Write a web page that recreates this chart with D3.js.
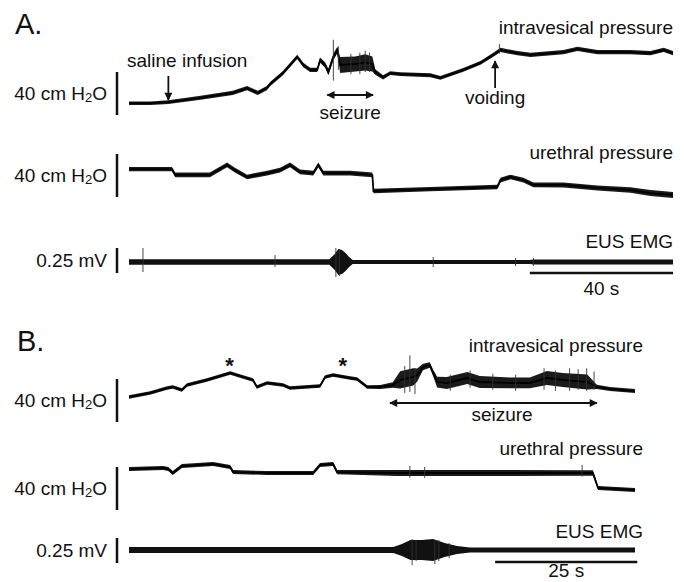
<!DOCTYPE html>
<html lang="en">

<head>
  <meta charset="UTF-8">
  <title>bladder traces</title>
  <script src="https://d3js.org/d3.v7.min.js"></script>
  <style>
    body { margin: 0; background: #fff; }
    text { font-family: "Liberation Sans", Arial, Helvetica, sans-serif; fill: #111; }
  </style>
</head>

<body>

  <div id="chart"></div>

  <script>
    // ---- panel A (152 s shown), pressure in cm H2O, EMG in mV ----
    var a1T = [0, 6, 11, 20, 29, 33, 36, 38.5, 39.5, 43, 47, 48.7, 50.6, 52.6, 53.4, 54.8, 55.7, 57.1, 58.2, 59, 63.2, 66, 68, 68.8, 71, 73, 75.8, 84.2, 87, 93.4, 98.2, 101.8, 103.8, 108.5, 112.2, 121.4, 125.3, 130.9, 140.1, 145.7, 149.4, 152];
    var a1V = [11, 11, 12, 16, 20.5, 25, 20.5, 25, 29, 39, 54, 46.5, 42, 42, 51, 46.5, 40, 54, 60.5, 46.5, 47.5, 49, 47.5, 40, 35, 39, 38, 37, 34.5, 42, 48.5, 56, 60.5, 57.5, 56, 58.5, 61.5, 58.5, 58.5, 57.5, 60.5, 57.5];
    var a1W = [1.6, 1.6, 1.8, 1.8, 2, 2, 2, 2, 2, 2, 2, 2, 2, 2, 2.5, 2.5, 3, 3, 3, 7.5, 7, 7.5, 7, 2.5, 2, 1.8, 1.8, 1.8, 1.8, 1.8, 1.8, 1.8, 2, 2, 2, 2, 2, 2, 2, 2, 2, 2];
    var a1SpikeT = [57.1, 58.5, 62, 64.5, 66, 67.2, 103.5];
    var a1SpikeHi = [70, 64, 57, 58, 60, 58, 66];
    var a1SpikeLo = [32, 42, 38, 38, 40, 40, 57];

    var a2T = [0, 12, 12.9, 22.6, 27.4, 29.6, 33, 38.6, 42.2, 45, 47.8, 51.5, 52.9, 54.3, 61.8, 68, 68.3, 84.2, 102.9, 103.8, 106.6, 110.2, 113, 121.4, 130.9, 140.1, 145.7, 152];
    var a2V = [26, 26, 20.5, 20.5, 29.8, 25, 18.6, 22.3, 25, 29.8, 23.3, 22.3, 29.8, 22.3, 22.3, 20.5, 5.6, 7.4, 9.3, 15.8, 18.6, 15.8, 11.2, 11.2, 8.4, 6.5, 3.7, 1.9];
    var a2W = [2, 2, 2.2, 2.2, 2.2, 2.2, 2.2, 2.2, 2.2, 2.2, 2.2, 2.2, 2.2, 2.2, 2.2, 2.2, 2, 2, 2, 2.2, 2.2, 2.2, 2.2, 2.4, 2.4, 2.6, 2.8, 2.8];

    var a3Base = 0.11;
    var a3T = [0, 56, 57.5, 58.5, 59.5, 60.5, 61.5, 62.5, 112, 113, 152];
    var a3Amp = [0.027, 0.027, 0.08, 0.13, 0.12, 0.09, 0.05, 0.02, 0.02, 0.025, 0.025];
    var a3SpikeT = [3.9, 40.8, 57.8, 58.8, 85, 108, 113];
    var a3SpikeHi = [0.25, 0.18, 0.25, 0.24, 0.16, 0.15, 0.15];
    var a3SpikeLo = [0.01, 0.06, -0.04, -0.03, 0.06, 0.07, 0.07];

    // ---- panel B (89 s shown) ----
    var b1T = [0, 3.7, 6.7, 7.7, 9.3, 10.2, 13.7, 17.8, 19.5, 21.8, 22.5, 24.3, 27.1, 28.3, 33.6, 34.5, 35.9, 38.9, 40.1, 41.9, 44.2, 46.4, 47.7, 50, 50.7, 51.7, 52.9, 53.5, 54.2, 55.9, 59.5, 61.7, 67.5, 70.5, 73.5, 76.3, 80.6, 82.3, 84.6, 89];
    var b1V = [23.3, 27, 31.6, 32.6, 29.8, 34.4, 39.1, 45.6, 42.8, 39.1, 32.6, 36.3, 34.4, 31.6, 33.5, 41.9, 43.7, 40.9, 40, 32.6, 32.6, 34.4, 39.1, 41.9, 43.7, 51.2, 53, 45.6, 37.2, 36.3, 40.9, 37.2, 36.3, 36.3, 40.9, 39.1, 37.2, 32.6, 30.7, 28.8];
    var b1W = [1.6, 1.6, 1.6, 1.6, 1.6, 1.6, 1.6, 1.6, 1.6, 1.6, 1.6, 1.6, 1.6, 1.6, 1.6, 1.6, 1.6, 1.6, 1.6, 1.6, 1.8, 2.5, 8, 8, 6, 3, 2.5, 3, 5, 5.5, 5.5, 5.5, 5, 5, 6.5, 6.5, 7, 2, 1.8, 1.8];
    var b1SpikeT = [48.5, 49.4, 50.3, 56.5, 60, 64, 68, 73, 75, 77.5, 79, 80.5, 81.8];
    var b1SpikeHi = [52, 62, 50, 44, 48, 45, 44, 50, 48, 50, 49, 50, 47];
    var b1SpikeLo = [27, 28, 26, 29, 32, 30, 29, 30, 29, 29, 30, 29, 30];

    var b2T = [0, 6, 6.9, 7.7, 9.3, 14.8, 17.8, 18.3, 24.3, 32.4, 33.6, 35.9, 36.6, 47.1, 64.7, 81.6, 82.5, 89];
    var b2V = [38.1, 39.1, 38.1, 34.4, 40.9, 42.8, 40, 35.3, 34.4, 34.4, 41.9, 42.8, 35.3, 34.4, 34.4, 34.4, 20.5, 18.6];
    var b2W = [1.8, 1.8, 1.8, 1.8, 1.8, 1.8, 1.8, 1.8, 1.8, 1.8, 1.8, 1.8, 2, 2.8, 2.8, 2.5, 1.8, 1.8];
    var b2SpikeT = [49.4, 52, 79.7];
    var b2SpikeHi = [41, 40, 42];
    var b2SpikeLo = [30, 30, 31];

    var b3Base = 0.13;
    var b3T = [0, 46.5, 48, 49.5, 51.5, 53.5, 55.5, 57.7, 60, 89];
    var b3Amp = [0.03, 0.03, 0.06, 0.1, 0.1, 0.11, 0.07, 0.04, 0.025, 0.025];
    var b3SpikeT = [49.8, 50.5, 53.8, 54.5, 56.3];
    var b3SpikeHi = [0.24, 0.23, 0.22, 0.23, 0.2];
    var b3SpikeLo = [-0.02, 0.02, -0.01, 0.02, 0.05];

    var width = 684, height = 582;
    var svg = d3.select("#chart").append("svg")
      .attr("width", width).attr("height", height);
    svg.append("rect").attr("width", width).attr("height", height).attr("fill", "#fff");

    var defs = svg.append("defs");
    defs.append("marker").attr("id", "head")
      .attr("viewBox", "0 0 10 10").attr("refX", 9).attr("refY", 5)
      .attr("markerWidth", 9).attr("markerHeight", 8).attr("markerUnits", "userSpaceOnUse")
      .attr("orient", "auto-start-reverse")
      .append("path").attr("d", "M0,0 L10,5 L0,10 Z").attr("fill", "#111");

    var xA = d3.scaleLinear().domain([0, 152]).range([129, 673]);
    var xB = d3.scaleLinear().domain([0, 89]).range([129, 635]);

    var yA1 = d3.scaleLinear().domain([0, 40]).range([115, 72]);
    var yA2 = d3.scaleLinear().domain([0, 40]).range([197, 154]);
    var yA3 = d3.scaleLinear().domain([0, 0.25]).range([273, 248]);
    var yB1 = d3.scaleLinear().domain([0, 40]).range([422, 379]);
    var yB2 = d3.scaleLinear().domain([0, 40]).range([510, 467]);
    var yB3 = d3.scaleLinear().domain([0, 0.25]).range([563, 538]);

    var fs = 19;

    function pressureTrace(x, y, T, V, W) {
      var pts = T.map(function (t, i) { return { t: t, v: V[i], w: W[i] }; });
      var area = d3.area()
        .x(function (d) { return x(d.t); })
        .y0(function (d) { return y(d.v - d.w); })
        .y1(function (d) { return y(d.v + d.w); });
      svg.append("path").datum(pts).attr("d", area).attr("fill", "#1a1a1a");
      var line = d3.line()
        .x(function (d) { return x(d.t); })
        .y(function (d) { return y(d.v); });
      svg.append("path").datum(pts).attr("d", line)
        .attr("fill", "none").attr("stroke", "#000").attr("stroke-width", 1.8);
    }

    function emgTrace(x, y, base, T, A) {
      var pts = T.map(function (t, i) { return { t: t, a: A[i] }; });
      var area = d3.area()
        .x(function (d) { return x(d.t); })
        .y0(function (d) { return y(base - d.a); })
        .y1(function (d) { return y(base + d.a); });
      svg.append("path").datum(pts).attr("d", area).attr("fill", "#111");
    }

    function spikes(x, y, T, Hi, Lo) {
      svg.append("g").selectAll("line").data(T).join("line")
        .attr("x1", function (d) { return x(d); }).attr("x2", function (d) { return x(d); })
        .attr("y1", function (d, i) { return y(Hi[i]); })
        .attr("y2", function (d, i) { return y(Lo[i]); })
        .attr("stroke", "#333").attr("stroke-width", 0.9);
    }

    function ampBar(y, top, label) {
      var x0 = 117;
      svg.append("line").attr("x1", x0).attr("x2", x0)
        .attr("y1", y(0)).attr("y2", y(top))
        .attr("stroke", "#111").attr("stroke-width", 2.5);
      var t = svg.append("text").attr("x", 107)
        .attr("y", (y(0) + y(top)) / 2 + 6.5)
        .attr("text-anchor", "end").attr("font-size", fs);
      if (label === "cm") {
        t.append("tspan").text("40 cm H");
        t.append("tspan").text("2").attr("font-size", 13).attr("dy", 2);
        t.append("tspan").text("O").attr("dy", -2);
      } else {
        t.text(label);
      }
    }

    function timeBar(x, t0, t1, yy, off, label) {
      svg.append("line").attr("x1", x(t0)).attr("x2", x(t1))
        .attr("y1", yy).attr("y2", yy)
        .attr("stroke", "#111").attr("stroke-width", 2.5);
      svg.append("text").attr("x", (x(t0) + x(t1)) / 2).attr("y", yy + off)
        .attr("text-anchor", "middle").attr("font-size", fs).text(label);
    }

    function label(xx, yy, txt, anchor, size) {
      return svg.append("text").attr("x", xx).attr("y", yy)
        .attr("text-anchor", anchor || "start").attr("font-size", size || fs).text(txt);
    }

    function arrow(x1, y1, x2, y2, both) {
      var l = svg.append("line").attr("x1", x1).attr("y1", y1).attr("x2", x2).attr("y2", y2)
        .attr("stroke", "#111").attr("stroke-width", 1.8)
        .attr("marker-end", "url(#head)");
      if (both) l.attr("marker-start", "url(#head)");
    }

    // ---- panel A ----
    label(15, 34, "A.", "start", 29);
    pressureTrace(xA, yA1, a1T, a1V, a1W);
    spikes(xA, yA1, a1SpikeT, a1SpikeHi, a1SpikeLo);
    pressureTrace(xA, yA2, a2T, a2V, a2W);
    emgTrace(xA, yA3, a3Base, a3T, a3Amp);
    spikes(xA, yA3, a3SpikeT, a3SpikeHi, a3SpikeLo);

    ampBar(yA1, 40, "cm");
    ampBar(yA2, 40, "cm");
    ampBar(yA3, 0.25, "0.25 mV");
    timeBar(xA, 112, 152, 273, 22, "40 s");

    label(673, 34, "intravesical pressure", "end");
    label(673, 159, "urethral pressure", "end");
    label(673, 248, "EUS EMG", "end");
    label(127, 67, "saline infusion");
    arrow(xA(11), 76, xA(11), 100);
    label(xA(102.3), 104, "voiding", "middle");
    arrow(xA(102.3), 88, xA(102.3), 61);
    arrow(xA(55.4), 95, xA(68.2), 95, true);
    label((xA(55.4) + xA(68.2)) / 2, 119, "seizure", "middle");

    // ---- panel B ----
    label(17, 351, "B.", "start", 29);
    pressureTrace(xB, yB1, b1T, b1V, b1W);
    spikes(xB, yB1, b1SpikeT, b1SpikeHi, b1SpikeLo);
    pressureTrace(xB, yB2, b2T, b2V, b2W);
    spikes(xB, yB2, b2SpikeT, b2SpikeHi, b2SpikeLo);
    emgTrace(xB, yB3, b3Base, b3T, b3Amp);
    spikes(xB, yB3, b3SpikeT, b3SpikeHi, b3SpikeLo);

    ampBar(yB1, 40, "cm");
    ampBar(yB2, 40, "cm");
    ampBar(yB3, 0.25, "0.25 mV");
    timeBar(xB, 64.4, 89.4, 562, 15, "25 s");

    label(643, 352, "intravesical pressure", "end");
    label(643, 455, "urethral pressure", "end");
    label(643, 538, "EUS EMG", "end");
    label(xB(17.7), 373, "*", "middle", 22).attr("font-weight", "bold");
    label(xB(37.6), 373, "*", "middle", 22).attr("font-weight", "bold");
    arrow(xB(45.9), 403, xB(82.3), 403, true);
    label(502, 421, "seizure", "middle");
  </script>

</body>

</html>
